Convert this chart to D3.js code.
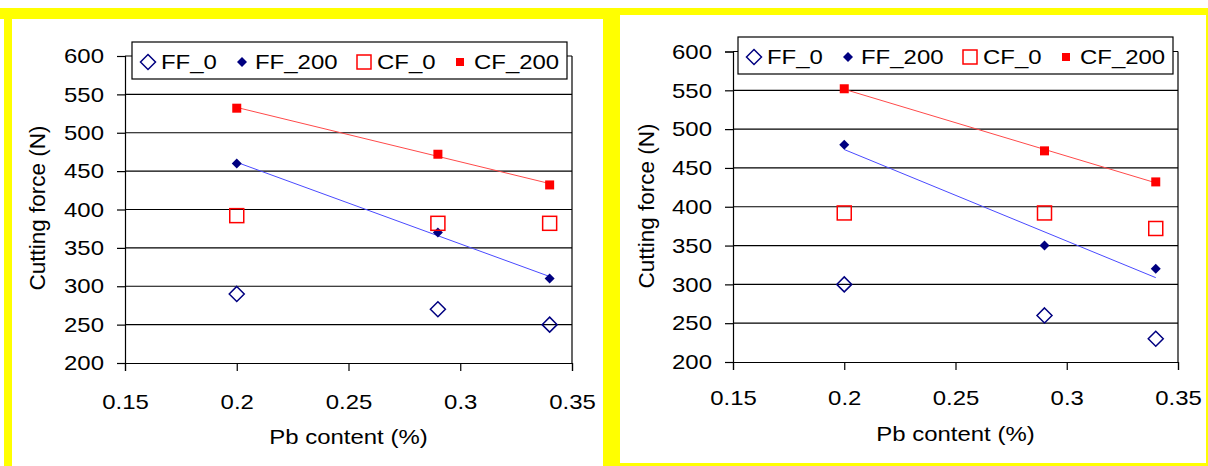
<!DOCTYPE html>
<html>
<head>
<meta charset="utf-8">
<script src="https://cdn.jsdelivr.net/npm/d3@7"></script>
<style>
  body { margin: 0; background: #fff; }
  svg { display: block; font-family: "Liberation Sans", Arial, sans-serif; }
</style>
</head>
<body>
<script>
const width = 1208
const height = 466

// data
const pbContent = [0.2, 0.29, 0.34]
const seriesNames = ['FF_0', 'FF_200', 'CF_0', 'CF_200']
const leftFF0 = [290, 270, 250]
const leftFF200 = [460, 370, 310]
const leftCF0 = [392, 382, 382]
const leftCF200 = [532, 472, 432]
const rightFF0 = [300, 260, 230]
const rightFF200 = [480, 350, 320]
const rightCF0 = [392, 392, 372]
const rightCF200 = [552, 472, 432]
const xTicks = [0.15, 0.2, 0.25, 0.3, 0.35]
const yTicks = [200, 250, 300, 350, 400, 450, 500, 550, 600]

const navy = '#000080'
const red = '#ff0000'

const svg = d3.select('body').append('svg')
  .attr('width', width)
  .attr('height', height)

// yellow frames
const yellow = '#ffff00'
const frames = [
  [0, 8, 620, 11],   // top left band
  [4, 8, 8, 458],    // left edge
  [603, 8, 17, 456], // middle
  [620, 8, 588, 7],  // top right band
  [1206, 8, 2, 458], // right edge
  [603, 463, 605, 3] // bottom right
]
svg.append('g').selectAll('rect').data(frames).enter().append('rect')
  .attr('x', d => d[0]).attr('y', d => d[1])
  .attr('width', d => d[2]).attr('height', d => d[3])
  .attr('fill', yellow)

// the source text is a bit wider than plain Arial
function stretch(sel, k) {
  sel.each(function () {
    const w = this.getComputedTextLength()
    d3.select(this).attr('textLength', w * k).attr('lengthAdjust', 'spacingAndGlyphs')
  })
}

function fit(xs, ys) {
  const mx = d3.mean(xs), my = d3.mean(ys)
  let sxy = 0, sxx = 0
  xs.forEach((x, i) => { sxy += (x - mx) * (ys[i] - my); sxx += (x - mx) * (x - mx) })
  const b = sxy / sxx
  return x => my + b * (x - mx)
}

function drawChart(p) {
  const x = d3.scaleLinear().domain([0.15, 0.35]).range([p.x0, p.x1])
  const y = d3.scaleLinear().domain([200, 600]).range([p.y1, p.y0])
  const g = svg.append('g')

  // gridlines
  g.append('g').selectAll('line').data(yTicks.slice(1)).enter().append('line')
    .attr('x1', p.x0).attr('x2', p.x1)
    .attr('y1', d => y(d)).attr('y2', d => y(d))
    .attr('stroke', '#000').attr('stroke-width', 1.2)
  g.append('line')
    .attr('x1', p.x1).attr('x2', p.x1).attr('y1', y(600)).attr('y2', y(200))
    .attr('stroke', '#000').attr('stroke-width', 1.2)

  const yAxis = g.append('g')
    .attr('transform', `translate(${p.x0},0)`)
    .call(d3.axisLeft(y).tickValues(yTicks).tickSize(8).tickPadding(13).tickFormat(d3.format('d')))
  const xAxis = g.append('g')
    .attr('transform', `translate(0,${p.y1})`)
    .call(d3.axisBottom(x).tickValues(xTicks).tickSize(8).tickPadding(p.xPad).tickFormat(d => String(d)))
  ;[yAxis, xAxis].forEach(a => {
    a.select('.domain').attr('stroke', '#000').attr('stroke-width', 1.2)
    a.selectAll('.tick line').attr('stroke', '#000').attr('stroke-width', 1.2)
    a.selectAll('text').attr('font-size', 21).attr('fill', '#000').attr('font-family', 'Liberation Sans, Arial, sans-serif')
      .call(stretch, 1.14)
  })

  g.append('text')
    .attr('transform', `translate(${p.yTitleX},${p.yTitleY}) rotate(-90)`)
    .attr('text-anchor', 'middle').attr('dy', '0.35em')
    .attr('font-size', 22.5).text('Cutting force (N)')
  g.append('text')
    .attr('x', (p.x0 + p.x1) / 2).attr('y', p.xTitleY)
    .attr('text-anchor', 'middle').attr('dy', '0.35em')
    .attr('font-size', 21).text('Pb content (%)')
    .call(stretch, 1.14)

  // linear trend lines
  const trends = [[p.ff200, '#4a4aff'], [p.cf200, '#ff4a4a']]
  g.append('g').selectAll('line').data(trends).enter().append('line')
    .attr('x1', x(d3.min(pbContent))).attr('x2', x(d3.max(pbContent)))
    .attr('y1', d => y(fit(pbContent, d[0])(d3.min(pbContent))))
    .attr('y2', d => y(fit(pbContent, d[0])(d3.max(pbContent))))
    .attr('stroke', d => d[1]).attr('stroke-width', 1)

  const pts = arr => arr.map((v, i) => ({ x: pbContent[i], y: v }))
  const diamond = r => `M0,${-r}L${r},0L0,${r}L${-r},0Z`

  g.append('g').selectAll('path').data(pts(p.ff0)).enter().append('path')
    .attr('d', diamond(7.5)).attr('transform', d => `translate(${x(d.x)},${y(d.y)})`)
    .attr('fill', 'none').attr('stroke', navy).attr('stroke-width', 1.5)
  g.append('g').selectAll('path').data(pts(p.ff200)).enter().append('path')
    .attr('d', diamond(5)).attr('transform', d => `translate(${x(d.x)},${y(d.y)})`)
    .attr('fill', navy)
  g.append('g').selectAll('rect').data(pts(p.cf0)).enter().append('rect')
    .attr('x', d => x(d.x) - 7).attr('y', d => y(d.y) - 7)
    .attr('width', 14).attr('height', 14)
    .attr('fill', 'none').attr('stroke', red).attr('stroke-width', 1.5)
  g.append('g').selectAll('rect').data(pts(p.cf200)).enter().append('rect')
    .attr('x', d => x(d.x) - 4.5).attr('y', d => y(d.y) - 4.5)
    .attr('width', 9).attr('height', 9)
    .attr('fill', red)

  // legend
  const lg = g.append('g').attr('transform', `translate(${p.lx},${p.ly})`)
  lg.append('rect').attr('width', 435).attr('height', 37)
    .attr('fill', '#fff').attr('stroke', '#000').attr('stroke-width', 1.2)
  const markX = [16, 110, 232, 328]
  const textX = [29, 123, 245, 342]
  const my = 20
  lg.append('path').attr('d', diamond(7.5)).attr('transform', `translate(${markX[0]},${my})`)
    .attr('fill', 'none').attr('stroke', navy).attr('stroke-width', 1.5)
  lg.append('path').attr('d', diamond(5)).attr('transform', `translate(${markX[1]},${my})`)
    .attr('fill', navy)
  lg.append('rect').attr('x', markX[2] - 7).attr('y', my - 7).attr('width', 14).attr('height', 14)
    .attr('fill', 'none').attr('stroke', red).attr('stroke-width', 1.5)
  lg.append('rect').attr('x', markX[3] - 4).attr('y', my - 4).attr('width', 8).attr('height', 8)
    .attr('fill', red)
  lg.selectAll('text.lab').data(seriesNames).enter().append('text')
    .attr('class', 'lab')
    .attr('x', (d, i) => textX[i]).attr('y', my).attr('dy', '0.35em')
    .attr('font-size', 21).text(d => d)
    .call(stretch, 1.14)
}

drawChart({
  x0: 125, x1: 572, y0: 56, y1: 363, xPad: 23,
  yTitleX: 37, yTitleY: 208, xTitleY: 437,
  lx: 132, ly: 42,
  ff0: leftFF0, ff200: leftFF200, cf0: leftCF0, cf200: leftCF200
})
drawChart({
  x0: 733, x1: 1178, y0: 51.5, y1: 362, xPad: 20,
  yTitleX: 646, yTitleY: 206, xTitleY: 434,
  lx: 738, ly: 37,
  ff0: rightFF0, ff200: rightFF200, cf0: rightCF0, cf200: rightCF200
})
</script>
</body>
</html>
